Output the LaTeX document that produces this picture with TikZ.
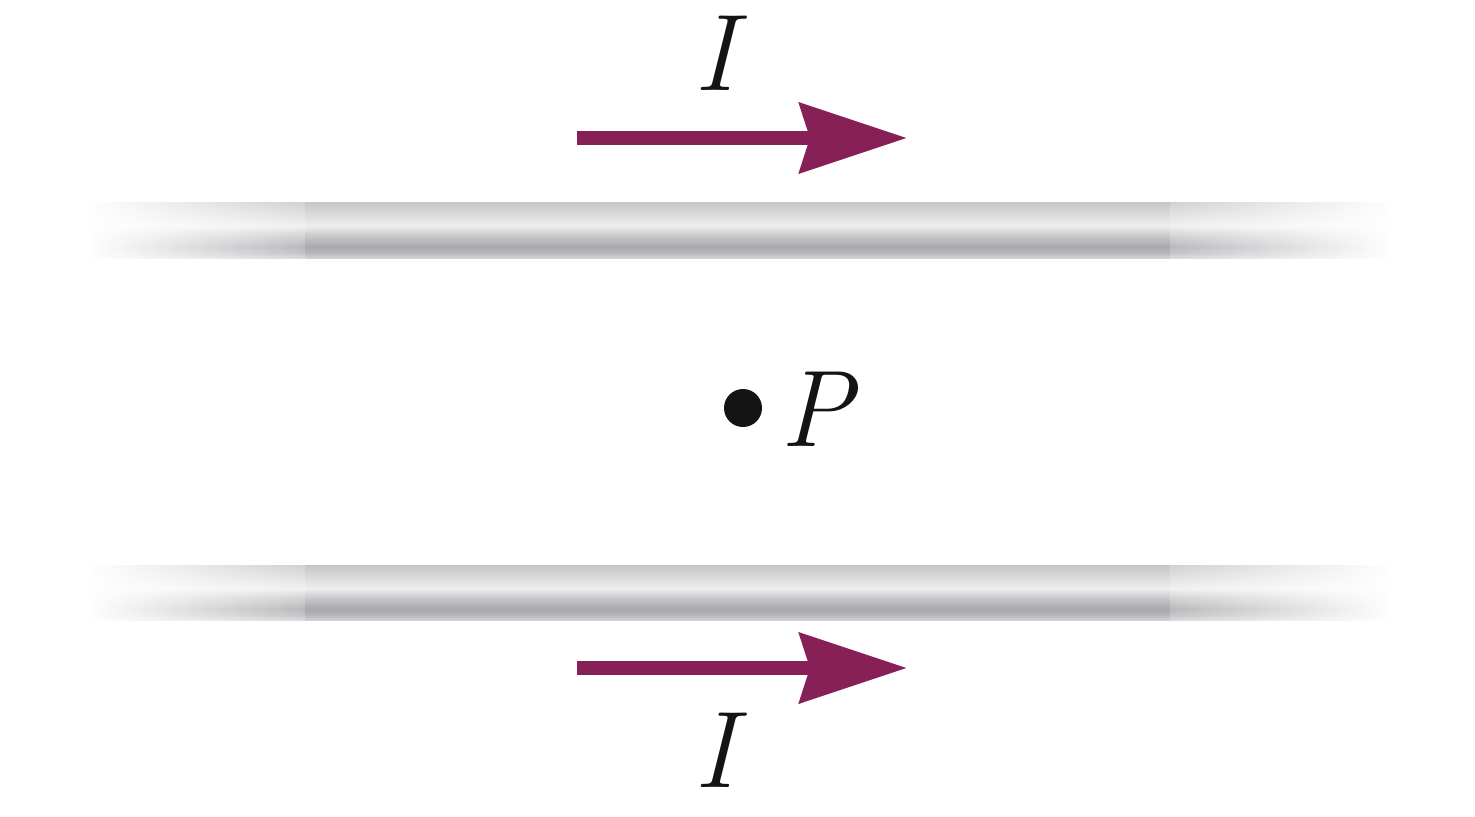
\documentclass[tikz,border=0pt]{standalone}
\usetikzlibrary{arrows.meta,fadings}
\definecolor{arrowc}{RGB}{136,32,88}
\definecolor{w0}{HTML}{D2D2D4}
\definecolor{w1}{HTML}{B8B8BC}
\definecolor{w2}{HTML}{A8A8AD}
\definecolor{w3}{HTML}{CACACC}
\definecolor{w4}{HTML}{EEEEEE}
\definecolor{w5}{HTML}{E4E4E6}
\definecolor{w6}{HTML}{C6C6C8}
\pgfdeclareverticalshading{wireshade}{100bp}{color(0bp)=(w0); color(25bp)=(w0); color(29.5bp)=(w1); color(35bp)=(w2); color(45.5bp)=(w3); color(53.5bp)=(w4); color(59bp)=(w5); color(75bp)=(w6); color(100bp)=(w6)}
\tikzfading[name=fadeleft, left color=transparent!0, right color=transparent!80]
\tikzfading[name=faderight, left color=transparent!80, right color=transparent!0]
\begin{document}
\begin{tikzpicture}[
  lab/.style={font=\fontsize{31}{37}\selectfont\itshape, text=black!92, inner sep=0pt},
  current/.style={arrowc, line width=0.14cm, -{Stealth[length=1.07cm, width=0.69cm, inset=0.1cm]}},
  wirebody/.style={shading=wireshade},
]
\useasboundingbox (0,0) rectangle (14.75,8.16);
% wires
\foreach \yb/\yt in {5.58/6.14, 1.96/2.51} {
  \shade[wirebody] (0.9,\yb) rectangle (13.9,\yt);
  \fill[white, path fading=fadeleft] (0.88,\yb-0.02) rectangle (3.05,\yt+0.02);
  \fill[white, path fading=faderight] (11.7,\yb-0.02) rectangle (13.92,\yt+0.02);
}
% current arrows
\coordinate (a1s) at (5.77,6.78);
\coordinate (a1e) at (9.07,6.78);
\coordinate (a2s) at (5.77,1.48);
\coordinate (a2e) at (9.07,1.48);
\draw[current] (a1s) -- (a1e);
\draw[current] (a2s) -- (a2e);
% labels
\node[lab, anchor=base] (I1) at (7.15,7.26) {I};
\node[lab, anchor=base] (I2) at (7.15,0.29) {I};
\node[circle, fill=black!92, minimum size=0.38cm, inner sep=0pt] (Pdot) at (7.43,4.08) {};
\node[lab, anchor=base] (P) at (8.17,3.70) {P};
\end{tikzpicture}
\end{document}
